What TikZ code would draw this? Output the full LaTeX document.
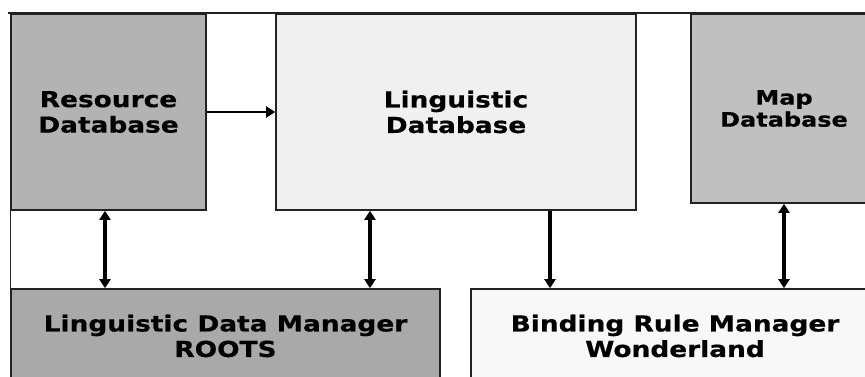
\documentclass[tikz,border=0pt]{standalone}
\usepackage{fontspec}
\setmainfont{DejaVu Sans}[FakeStretch=1.2, BoldFeatures={FakeBold=0.6}]
\usetikzlibrary{arrows.meta}
\definecolor{resgray}{HTML}{B3B3B3}
\definecolor{linggray}{HTML}{F0F0F0}
\definecolor{mapgray}{HTML}{C0C0C0}
\definecolor{ldmgray}{HTML}{A9A9A9}
\definecolor{bindgray}{HTML}{F8F8F8}
\definecolor{edge}{HTML}{222222}
\tikzset{
  box/.style={draw=edge, line width=1.6pt, rectangle, inner sep=0pt, align=center,
    font=\fontsize{22}{25.5}\selectfont\bfseries, text=black},
  tip/.tip={Triangle[length=9pt,width=11pt]},
  conn/.style={line width=3.2pt, -tip},
  bconn/.style={line width=3.2pt, tip-tip},
  frame/.style={draw=edge, line width=1.6pt}
}
\begin{document}
\begin{tikzpicture}[x=1pt,y=1pt]
\useasboundingbox (0,0) rectangle (865,-376);
\clip (0,0) rectangle (865,-376);
\draw[frame] (8,-13) -- (865,-13);
\draw[frame] (10.5,-13) -- (10.5,-376);
\node[box, fill=resgray, minimum width=195pt, minimum height=196pt] (res) at (108.5,-112) {Resource\\Database};
\node[box, fill=linggray, minimum width=360pt, minimum height=196pt] (ling) at (456,-112) {Linguistic\\Database};
\node[box, fill=mapgray, minimum width=186pt, minimum height=189pt, font=\fontsize{20}{22}\selectfont\bfseries] (map) at (784,-108.5) {Map\\Database};
\node[box, fill=ldmgray, minimum width=429pt, minimum height=94pt] (ldm) at (225.5,-336) {Linguistic Data Manager\\ROOTS};
\node[box, fill=bindgray, minimum width=408pt, minimum height=94pt] (bind) at (675,-336) {Binding Rule Manager\\Wonderland};
\coordinate (c1) at (105,0);
\coordinate (c2) at (370,0);
\coordinate (c3) at (550,0);
\draw[conn, line width=2.4pt] (res.east) -- (ling.west);
\draw[bconn] (res.south -| c1) -- (ldm.north -| c1);
\draw[bconn] (ling.south -| c2) -- (ldm.north -| c2);
\draw[conn] (ling.south -| c3) -- (bind.north -| c3);
\draw[bconn] (map.south) -- (bind.north -| map.south);
\end{tikzpicture}
\end{document}
